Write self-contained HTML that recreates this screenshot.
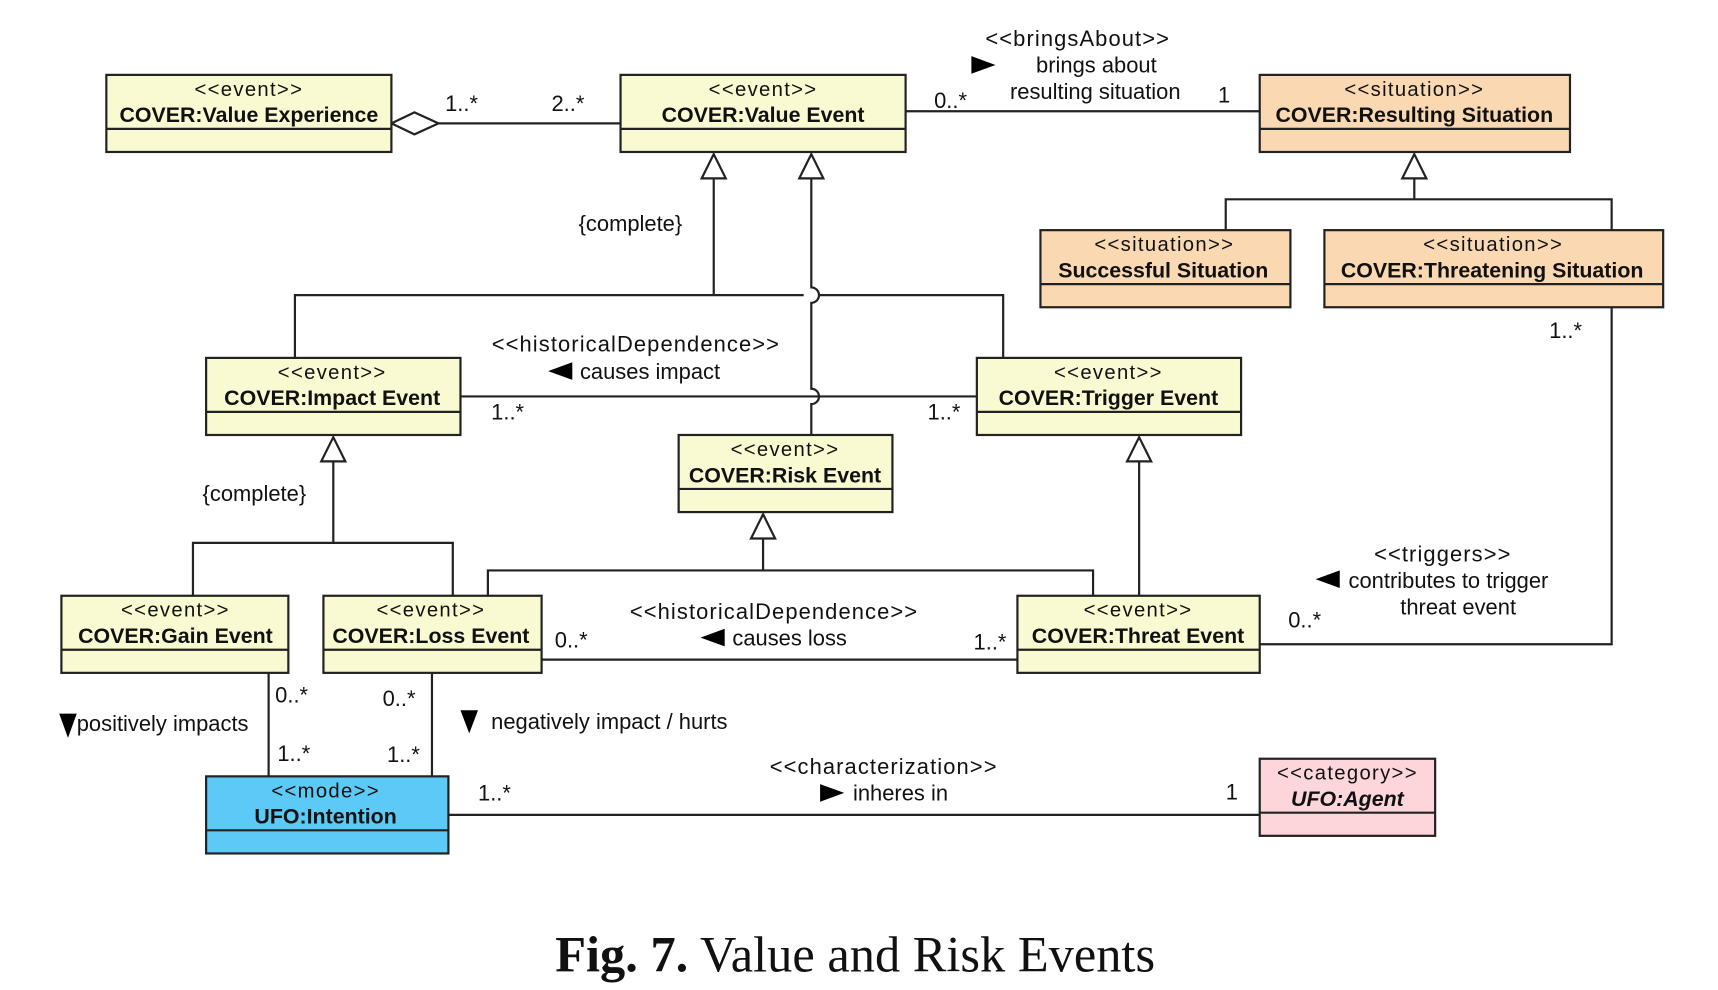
<!DOCTYPE html>
<html><head><meta charset="utf-8"><style>
html,body{margin:0;padding:0;background:#fff;}
svg{display:block;}
text{font-family:"Liberation Sans",sans-serif;fill:#111;}
.st{font-size:18.5px;text-anchor:middle;letter-spacing:1.2px;}
.nm{font-size:19.5px;font-weight:bold;text-anchor:middle;}
.lb{font-size:20px;}
.mid{text-anchor:middle;}
.ln{stroke:#222;stroke-width:2;fill:none;}
.box{stroke:#222;stroke-width:2;}
</style></head><body>
<svg width="1718" height="990" viewBox="0 0 1567 899" preserveAspectRatio="none" xmlns="http://www.w3.org/2000/svg">
<g class="ln">
<path d="M400 112 H566"/>
<path d="M826 101 H1149"/>
<path d="M651 162 V268 M269 325 V268 H733 M747 268 H915 V325"/>
<path d="M740 162 V261 A7 7 0 0 1 740 275 V353 A7 7 0 0 1 740 367 V395"/>
<path d="M1290 162 V181 M1118 209 V181 H1470 V209"/>
<path d="M420 360 H891"/>
<path d="M304 419 V493 M176 541 V493 H413 V541"/>
<path d="M1039 419 V541"/>
<path d="M696 489 V518 M445 541 V518 H997 V541"/>
<path d="M494 599 H928"/>
<path d="M1149 585 H1470 V279"/>
<path d="M245 611 V705 M394 611 V705"/>
<path d="M409 740 H1149"/>
</g>
<g stroke="#222" stroke-width="2" fill="#fff">
<path d="M357 112 L378 102 L400 112 L378 122 Z"/>
<path d="M651 140 L640 162 L662 162 Z"/>
<path d="M740 140 L729 162 L751 162 Z"/>
<path d="M1290 140 L1279 162 L1301 162 Z"/>
<path d="M304 397 L293 419 L315 419 Z"/>
<path d="M1039 397 L1028 419 L1050 419 Z"/>
<path d="M696 467 L685 489 L707 489 Z"/>
</g>
<g>
<rect class="box" x="97" y="68" width="260" height="70" fill="#fafad2"/><path class="ln" d="M97 117 H357"/>
<text class="st" x="227" y="87">&lt;&lt;event&gt;&gt;</text><text class="nm" x="227" y="111">COVER:Value Experience</text>

<rect class="box" x="566" y="68" width="260" height="70" fill="#fafad2"/><path class="ln" d="M566 117 H826"/>
<text class="st" x="696" y="87">&lt;&lt;event&gt;&gt;</text><text class="nm" x="696" y="111">COVER:Value Event</text>

<rect class="box" x="1149" y="68" width="283" height="70" fill="#fad9b2"/><path class="ln" d="M1149 117 H1432"/>
<text class="st" x="1290" y="87">&lt;&lt;situation&gt;&gt;</text><text class="nm" x="1290" y="111">COVER:Resulting Situation</text>

<rect class="box" x="949" y="209" width="228" height="70" fill="#fad9b2"/><path class="ln" d="M949 258 H1177"/>
<text class="st" x="1062" y="228">&lt;&lt;situation&gt;&gt;</text><text class="nm" x="1061" y="252">Successful Situation</text>

<rect class="box" x="1208" y="209" width="309" height="70" fill="#fad9b2"/><path class="ln" d="M1208 258 H1517"/>
<text class="st" x="1362" y="228">&lt;&lt;situation&gt;&gt;</text><text class="nm" x="1361" y="252">COVER:Threatening Situation</text>

<rect class="box" x="188" y="325" width="232" height="70" fill="#fafad2"/><path class="ln" d="M188 374 H420"/>
<text class="st" x="303" y="344">&lt;&lt;event&gt;&gt;</text><text class="nm" x="303" y="368">COVER:Impact Event</text>

<rect class="box" x="891" y="325" width="241" height="70" fill="#fafad2"/><path class="ln" d="M891 374 H1132"/>
<text class="st" x="1011" y="344">&lt;&lt;event&gt;&gt;</text><text class="nm" x="1011" y="368">COVER:Trigger Event</text>

<rect class="box" x="619" y="395" width="195" height="70" fill="#fafad2"/><path class="ln" d="M619 444 H814"/>
<text class="st" x="716" y="414">&lt;&lt;event&gt;&gt;</text><text class="nm" x="716" y="438">COVER:Risk Event</text>

<rect class="box" x="56" y="541" width="207" height="70" fill="#fafad2"/><path class="ln" d="M56 590 H263"/>
<text class="st" x="160" y="560">&lt;&lt;event&gt;&gt;</text><text class="nm" x="160" y="584">COVER:Gain Event</text>

<rect class="box" x="295" y="541" width="199" height="70" fill="#fafad2"/><path class="ln" d="M295 590 H494"/>
<text class="st" x="393" y="560">&lt;&lt;event&gt;&gt;</text><text class="nm" x="393" y="584">COVER:Loss Event</text>

<rect class="box" x="928" y="541" width="221" height="70" fill="#fafad2"/><path class="ln" d="M928 590 H1149"/>
<text class="st" x="1038" y="560">&lt;&lt;event&gt;&gt;</text><text class="nm" x="1038" y="584">COVER:Threat Event</text>

<rect class="box" x="188" y="705" width="221" height="70" fill="#5ccaf7"/><path class="ln" d="M188 754 H409"/>
<text class="st" x="297" y="724">&lt;&lt;mode&gt;&gt;</text><text class="nm" x="297" y="748">UFO:Intention</text>

<rect class="box" x="1149" y="689" width="160" height="70" fill="#fdd6db"/><path class="ln" d="M1149 738 H1309"/>
<text class="st" x="1229" y="708">&lt;&lt;category&gt;&gt;</text><text class="nm" x="1229" y="732" font-style="italic">UFO:Agent</text>
</g>
<g class="lb">
<text x="406" y="101">1..*</text>
<text x="503" y="101">2..*</text>
<text x="852" y="98">0..*</text>
<text x="1111" y="93">1</text>
<text class="mid" x="983" y="42" letter-spacing="1">&lt;&lt;bringsAbout&gt;&gt;</text>
<path d="M886 51 L908 59 L886 67 Z" fill="#000"/>
<text class="mid" x="1000" y="66">brings about</text>
<text class="mid" x="999" y="90">resulting situation</text>
<text class="mid" x="575" y="210">{complete}</text>
<text class="mid" x="580" y="319" letter-spacing="1">&lt;&lt;historicalDependence&gt;&gt;</text>
<path d="M522 329 L500 337 L522 345 Z" fill="#000"/>
<text x="529" y="344">causes impact</text>
<text x="448" y="381">1..*</text>
<text x="846" y="381">1..*</text>
<text class="mid" x="232" y="455">{complete}</text>
<text class="mid" x="706" y="562" letter-spacing="1">&lt;&lt;historicalDependence&gt;&gt;</text>
<path d="M661 571 L639 579 L661 587 Z" fill="#000"/>
<text x="668" y="586">causes loss</text>
<text x="506" y="588">0..*</text>
<text x="888" y="590">1..*</text>
<text class="mid" x="1316" y="510" letter-spacing="1">&lt;&lt;triggers&gt;&gt;</text>
<path d="M1222 518 L1200 526 L1222 534 Z" fill="#000"/>
<text x="1230" y="534">contributes to trigger</text>
<text class="mid" x="1330" y="558">threat event</text>
<text x="1175" y="570">0..*</text>
<text x="1413" y="307">1..*</text>
<path d="M54 648 L70 648 L62 670 Z" fill="#000"/>
<text x="70" y="664">positively impacts</text>
<text x="251" y="638">0..*</text>
<text x="253" y="691">1..*</text>
<text x="349" y="641">0..*</text>
<text x="353" y="692">1..*</text>
<path d="M420 645 L436 645 L428 666 Z" fill="#000"/>
<text x="448" y="662">negatively impact / hurts</text>
<text x="436" y="727">1..*</text>
<text x="1118" y="726">1</text>
<text class="mid" x="806" y="703" letter-spacing="1">&lt;&lt;characterization&gt;&gt;</text>
<path d="M748 712 L770 720 L748 728 Z" fill="#000"/>
<text x="778" y="727">inheres in</text>
</g>
<text x="780" y="882" text-anchor="middle" style="font-family:'Liberation Serif',serif;font-size:46px;"><tspan font-weight="bold">Fig. 7.</tspan> Value and Risk Events</text>
</svg>
</body></html>
